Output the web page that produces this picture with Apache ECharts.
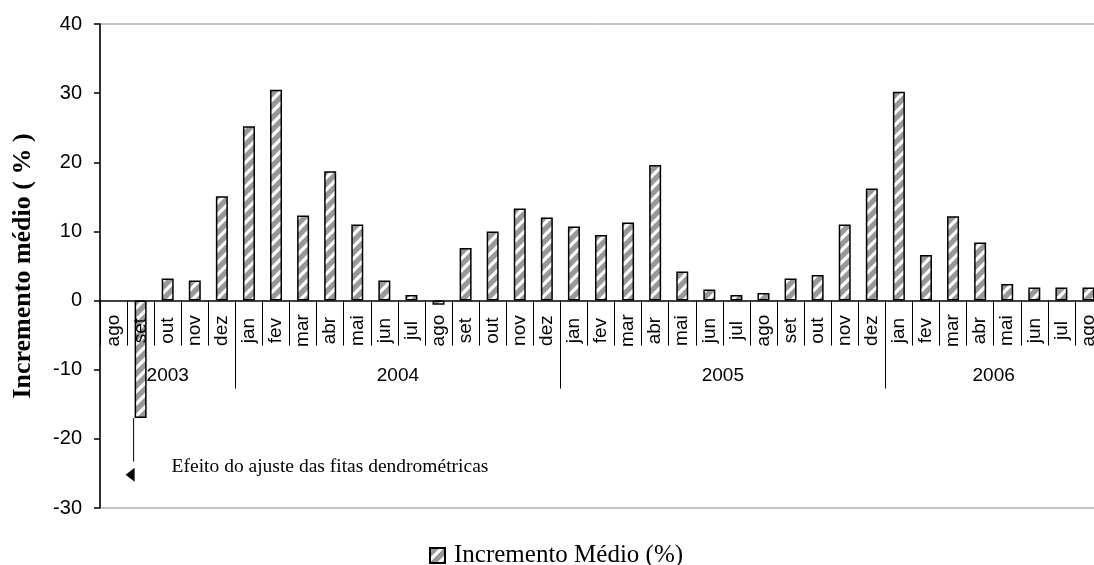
<!DOCTYPE html>
<html>
<head>
<meta charset="utf-8">
<script src="https://cdn.jsdelivr.net/npm/echarts@6/dist/echarts.min.js"></script>
<style>
    html, body { margin: 0; padding: 0; background: #ffffff; }
    #chart { width: 1094px; height: 565px; }
</style>
</head>
<body>
<div id="chart"></div>
<script>
// months from ago/2003 to ago/2006
const months = [
    'ago', 'set', 'out', 'nov', 'dez',
    'jan', 'fev', 'mar', 'abr', 'mai', 'jun', 'jul', 'ago', 'set', 'out', 'nov', 'dez',
    'jan', 'fev', 'mar', 'abr', 'mai', 'jun', 'jul', 'ago', 'set', 'out', 'nov', 'dez',
    'jan', 'fev', 'mar', 'abr', 'mai', 'jun', 'jul', 'ago'
]
// first month has no value
const increments = [
    null, -17, 3.2, 2.9, 15.1,
    25.2, 30.5, 12.3, 18.7, 11, 2.9, 0.8, -0.6, 7.6, 10, 13.3, 12,
    10.7, 9.5, 11.3, 19.6, 4.2, 1.6, 0.8, 1.1, 3.2, 3.7, 11, 16.2,
    30.2, 6.6, 12.2, 8.4, 2.4, 1.9, 1.9, 1.9
]
const years = ['2003', '2004', '2005', '2006']
const yearStarts = [0, 5, 17, 29]
const yMin = -30
const yMax = 40

const seriesName = 'Incremento Médio (%)'
const noteText = 'Efeito do ajuste das fitas dendrométricas'

// year label positions = middle of each year's group of months
const yearEnds = yearStarts.slice(1).concat([months.length])
const yearCenters = yearStarts.map((s, i) => (s + yearEnds[i]) / 2)

function hatchPattern() {
    const s = 12
    const c = document.createElement('canvas')
    c.width = s
    c.height = s
    const g = c.getContext('2d')
    g.fillStyle = '#999999'
    g.fillRect(0, 0, s, s)
    g.strokeStyle = '#ffffff'
    g.lineWidth = 3.2
    g.beginPath()
    g.moveTo(-3, s + 3); g.lineTo(s + 3, -3)
    g.moveTo(-3, 3); g.lineTo(3, -3)
    g.moveTo(s - 3, s + 3); g.lineTo(s + 3, s - 3)
    g.stroke()
    return c
}

const sansFont = 'Liberation Sans'
const serifFont = 'Liberation Serif'
const barWidth = 12

const gridTop = 24
const gridBottom = 57
const gridHeight = 565 - gridTop - gridBottom
// month axis sits on the zero line, lifted from the bottom of the grid
const zeroOffset = -gridHeight * (0 - yMin) / (yMax - yMin)

const chart = echarts.init(document.getElementById('chart'))

const option = {
    animation: false,
    grid: {
        left: 100,
        right: -8,
        top: gridTop,
        bottom: gridBottom,
        outerBoundsMode: 'none',
        containLabel: false,
        show: true,
        borderColor: '#888888',
        borderWidth: 1
    },
    legend: {
        data: [seriesName],
        left: 424,
        top: 538,
        icon: 'rect',
        itemWidth: 15,
        itemHeight: 15,
        textStyle: {
            fontFamily: serifFont,
            fontSize: 25,
            color: '#000',
            padding: [0, 0, 0, 4]
        }
    },
    xAxis: [
        {
            type: 'category',
            data: months,
            position: 'bottom',
            offset: zeroOffset,
            z: 5,
            axisLine: {
                onZero: false,
                lineStyle: { color: '#000', width: 1.5 }
            },
            axisTick: {
                show: true,
                interval: 0,
                length: 45,
                lineStyle: { color: '#000', width: 1 }
            },
            axisLabel: {
                interval: 0,
                rotate: 90,
                align: 'center',
                verticalAlign: 'middle',
                margin: 30,
                fontFamily: sansFont,
                fontSize: 19,
                color: '#000'
            },
            splitLine: { show: false }
        },
        {
            type: 'value',
            position: 'bottom',
            offset: zeroOffset,
            min: 0,
            max: months.length,
            z: 5,
            axisLine: { show: false, onZero: false },
            axisTick: {
                show: true,
                customValues: yearStarts.slice(1),
                length: 88,
                lineStyle: { color: '#000', width: 1 }
            },
            axisLabel: {
                customValues: yearCenters,
                formatter: v => years[yearCenters.indexOf(v)] || '',
                margin: 66,
                fontFamily: sansFont,
                fontSize: 19,
                color: '#000'
            },
            splitLine: { show: false }
        }
    ],
    yAxis: {
        type: 'value',
        min: yMin,
        max: yMax,
        interval: 10,
        name: 'Incremento médio ( % )',
        nameLocation: 'middle',
        nameGap: 64,
        nameTextStyle: {
            fontFamily: serifFont,
            fontWeight: 'bold',
            fontSize: 26,
            color: '#000'
        },
        axisLine: {
            show: true,
            onZero: false,
            lineStyle: { color: '#000', width: 1.5 }
        },
        axisTick: {
            show: true,
            length: 6,
            lineStyle: { color: '#000', width: 1.5 }
        },
        axisLabel: {
            margin: 18,
            fontFamily: sansFont,
            fontSize: 20,
            color: '#000'
        },
        splitLine: { show: false }
    },
    series: [
        {
            name: seriesName,
            type: 'bar',
            data: increments,
            barWidth: barWidth,
            itemStyle: {
                color: { image: hatchPattern(), repeat: 'repeat' },
                borderColor: '#000',
                borderWidth: 1.5
            }
        }
    ]
}

chart.setOption(option)

// annotation for the september 2003 bar
const setIndex = 1
const toPx = v => chart.convertToPixel({ xAxisIndex: 0, yAxisIndex: 0 }, v)
const barBottom = toPx([setIndex, increments[setIndex]])
const lineEnd = toPx([setIndex, -23.3])
const arrowAt = toPx([setIndex, -25.2])
const lineX = barBottom[0] - barWidth / 2 - 1

chart.setOption({
    graphic: [
        {
            type: 'line',
            shape: { x1: lineX, y1: barBottom[1], x2: lineX, y2: lineEnd[1] },
            style: { stroke: '#000', lineWidth: 1 }
        },
        {
            type: 'polygon',
            shape: {
                points: [
                    [lineX - 8, arrowAt[1]],
                    [lineX + 1, arrowAt[1] - 7],
                    [lineX + 1, arrowAt[1] + 7]
                ]
            },
            style: { fill: '#000' }
        },
        {
            type: 'text',
            x: barBottom[0] + 31,
            y: arrowAt[1] - 8,
            style: {
                text: noteText,
                font: '19.5px "Liberation Serif"',
                fill: '#000',
                textVerticalAlign: 'middle'
            }
        }
    ]
})

window.addEventListener('resize', () => chart.resize())
</script>
</body>
</html>
